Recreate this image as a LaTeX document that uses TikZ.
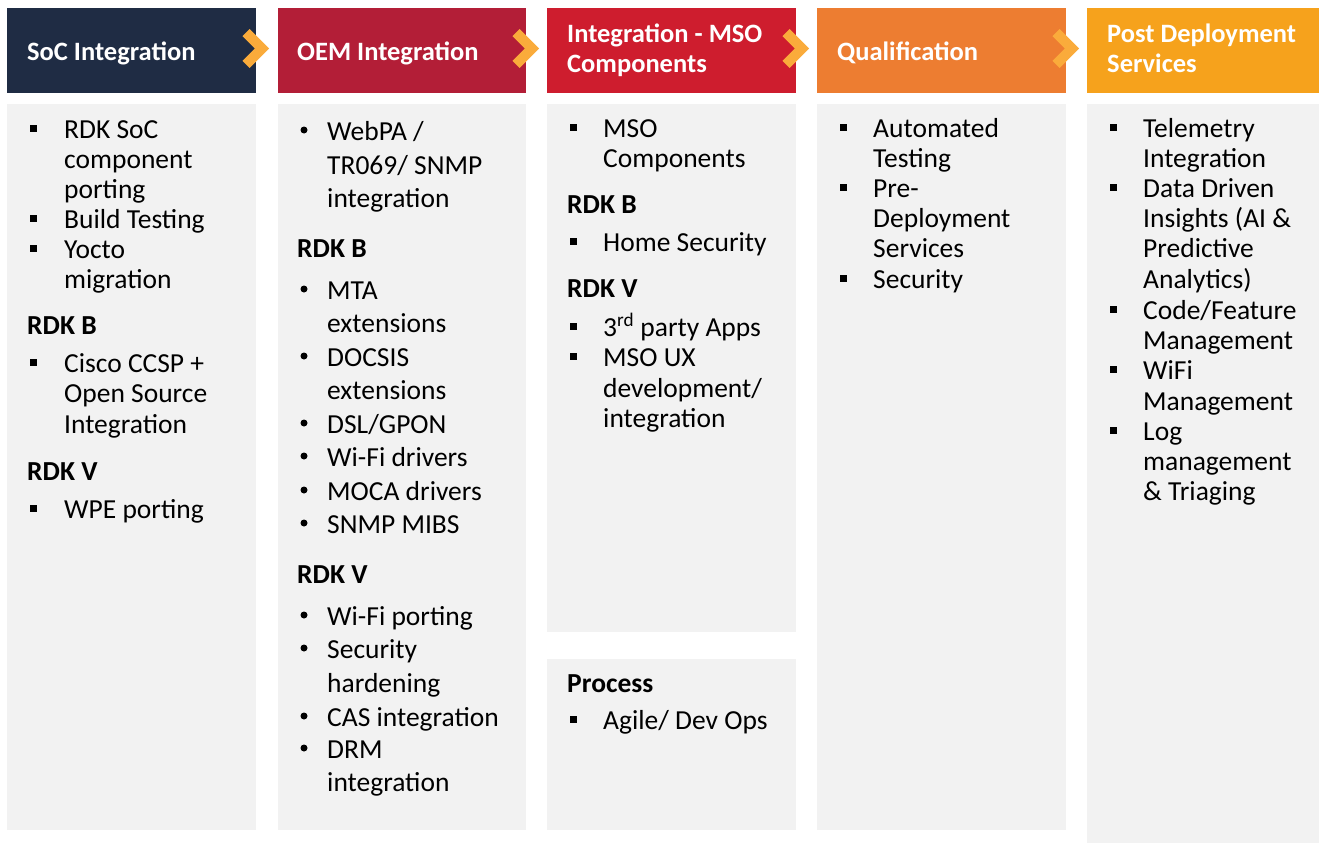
\documentclass[tikz,border=0pt]{standalone}
\usepackage{fontspec}
\setmainfont{Carlito}
\definecolor{cSoC}{HTML}{1F2C44}
\definecolor{cOEM}{HTML}{B31E37}
\definecolor{cMSO}{HTML}{CE1D2E}
\definecolor{cQual}{HTML}{ED7D31}
\definecolor{cPost}{HTML}{F6A21C}
\definecolor{cChev}{HTML}{FAAB3B}
\definecolor{cBody}{HTML}{F2F2F2}
\newcommand\bodyfont{\fontsize{27.5}{30}\selectfont}
\newcommand\hdrfont{\fontsize{26.5}{30}\selectfont\bfseries}
\tikzset{
  txt/.style={anchor=base west, inner sep=0pt, font=\bodyfont, text=black},
  subh/.style={anchor=base west, inner sep=0pt, font=\bodyfont\bfseries, text=black},
  htxt/.style={anchor=base west, inner sep=0pt, font=\hdrfont, text=white},
  sqb/.style={fill=black, inner sep=0pt, minimum size=7pt, draw=none},
  dotb/.style={circle, fill=black, inner sep=0pt, minimum size=7pt, draw=none},
  hdr/.style={draw=none, inner sep=0pt, anchor=north west},
  bodybox/.style={fill=cBody, draw=none, inner sep=0pt, anchor=north west},
  chev/.style={draw=cChev, line width=10pt, line join=miter, line cap=butt},
}
\newcommand\SqItem[5]{\node[sqb] (#1-b) at (#2,#4-1) {}; \node[txt] (#1) at (#3,#4+9) {#5};}
\newcommand\DotItem[5]{\node[dotb] (#1-b) at (#2,#4-1) {}; \node[txt] (#1) at (#3,#4+9) {#5};}
\newcommand\Cont[4]{\node[txt] (#1) at (#2,#3+9) {#4};}
\newcommand\Sub[4]{\node[subh] (#1) at (#2,#3+9) {#4};}
\newcommand\Chev[2]{\draw[chev] (#1-16,#2-16) coordinate (#1c1) -- (#1,#2) coordinate (#1c2) -- (#1-16,#2+16) coordinate (#1c3);}
\begin{document}
\begin{tikzpicture}[x=1pt,y=-1pt]
\useasboundingbox (0,0) rectangle (1319,843);
% headers
\node[hdr, fill=cSoC, minimum width=249pt, minimum height=85pt] (h1) at (7,8) {};
\node[hdr, fill=cOEM, minimum width=248pt, minimum height=85pt] (h2) at (278,8) {};
\node[hdr, fill=cMSO, minimum width=249pt, minimum height=85pt] (h3) at (547,8) {};
\node[hdr, fill=cQual, minimum width=249pt, minimum height=85pt] (h4) at (817,8) {};
\node[hdr, fill=cPost, minimum width=232pt, minimum height=85pt] (h5) at (1087,8) {};
% bodies
\node[bodybox, minimum width=249pt, minimum height=726pt] (b1) at (7,104) {};
\node[bodybox, minimum width=248pt, minimum height=726pt] (b2) at (278,104) {};
\node[bodybox, minimum width=249pt, minimum height=528pt] (b3) at (547,104) {};
\node[bodybox, minimum width=249pt, minimum height=171pt] (b3p) at (547,659) {};
\node[bodybox, minimum width=249pt, minimum height=726pt] (b4) at (817,104) {};
\node[bodybox, minimum width=232pt, minimum height=739pt] (b5) at (1087,104) {};
% chevrons
\Chev{262}{48.5}
\Chev{532}{48.5}
\Chev{802}{48.5}
\Chev{1072}{48.5}
% header texts
\node[htxt] (t1) at (27,60) {SoC Integration};
\node[htxt] (t2) at (297,60) {OEM Integration};
\node[htxt] (t3a) at (567,43) {Integration - MSO};
\node[htxt] (t3b) at (567,72) {Components};
\node[htxt] (t4) at (837,60) {Qualification};
\node[htxt] (t5a) at (1107,43) {Post Deployment};
\node[htxt] (t5b) at (1107,72) {Services};
% SoC column
\SqItem{s1}{33}{64}{129}{RDK SoC}
\Cont{s1a}{64}{159}{component}
\Cont{s1b}{64}{189}{porting}
\SqItem{s2}{33}{64}{219}{Build Testing}
\SqItem{s3}{33}{64}{249}{Yocto}
\Cont{s3a}{64}{279}{migration}
\Sub{s4}{27}{325}{RDK B}
\SqItem{s5}{33}{64}{363}{Cisco CCSP +}
\Cont{s5a}{64}{393}{Open Source}
\Cont{s5b}{64}{424}{Integration}
\Sub{s6}{27}{471}{RDK V}
\SqItem{s7}{33}{64}{509}{WPE porting}
% OEM column
\DotItem{o1}{304}{327}{131}{WebPA /}
\Cont{o1a}{327}{165}{TR069/ SNMP}
\Cont{o1b}{327}{198}{integration}
\Sub{o2}{297}{248}{RDK B}
\DotItem{o3}{304}{327}{290}{MTA}
\Cont{o3a}{327}{323}{extensions}
\DotItem{o4}{304}{327}{357}{DOCSIS}
\Cont{o4a}{327}{390}{extensions}
\DotItem{o5}{304}{327}{424}{DSL/GPON}
\DotItem{o6}{304}{327}{457}{Wi-Fi drivers}
\DotItem{o7}{304}{327}{491}{MOCA drivers}
\DotItem{o8}{304}{327}{524}{SNMP MIBS}
\Sub{o9}{297}{574}{RDK V}
\DotItem{o10}{304}{327}{616}{Wi-Fi porting}
\DotItem{o11}{304}{327}{649}{Security}
\Cont{o11a}{327}{683}{hardening}
\DotItem{o12}{304}{327}{717}{CAS integration}
\DotItem{o13}{304}{327}{749}{DRM}
\Cont{o13a}{327}{782}{integration}
% MSO column
\SqItem{m1}{573}{603}{128}{MSO}
\Cont{m1a}{603}{158}{Components}
\Sub{m2}{567}{204}{RDK B}
\SqItem{m3}{573}{603}{242}{Home Security}
\Sub{m4}{567}{288}{RDK V}
\SqItem{m5}{573}{603}{327}{3\textsuperscript{rd} party Apps}
\SqItem{m6}{573}{603}{357}{MSO UX}
\Cont{m6a}{603}{388}{development/}
\Cont{m6b}{603}{418}{integration}
\Sub{m7}{567}{683}{Process}
\SqItem{m8}{573}{603}{720}{Agile/ Dev Ops}
% Qualification column
\SqItem{q1}{843}{873}{128}{Automated}
\Cont{q1a}{873}{158}{Testing}
\SqItem{q2}{843}{873}{188}{Pre-}
\Cont{q2a}{873}{218}{Deployment}
\Cont{q2b}{873}{248}{Services}
\SqItem{q3}{843}{873}{279}{Security}
% Post column
\SqItem{p1}{1113}{1143}{128}{Telemetry}
\Cont{p1a}{1143}{158}{Integration}
\SqItem{p2}{1113}{1143}{188}{Data Driven}
\Cont{p2a}{1143}{218}{Insights (AI \&}
\Cont{p2b}{1143}{248}{Predictive}
\Cont{p2c}{1143}{279}{Analytics)}
\SqItem{p3}{1113}{1143}{310}{Code/Feature}
\Cont{p3a}{1143}{340}{Management}
\SqItem{p4}{1113}{1143}{370}{WiFi}
\Cont{p4a}{1143}{401}{Management}
\SqItem{p5}{1113}{1143}{431}{Log}
\Cont{p5a}{1143}{461}{management}
\Cont{p5b}{1143}{491}{\& Triaging}
\end{tikzpicture}
\end{document}
